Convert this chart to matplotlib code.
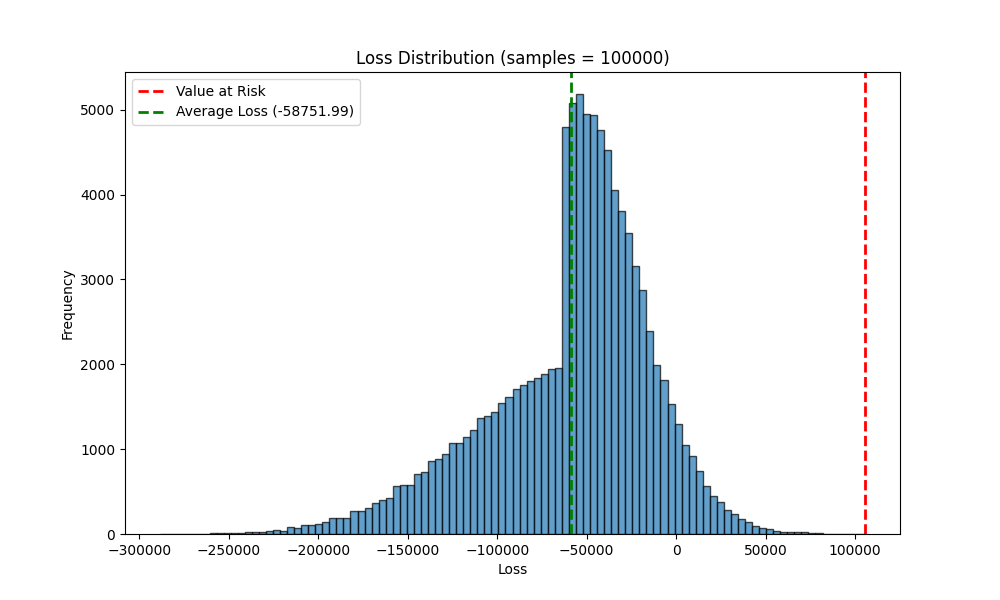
import numpy as np
import matplotlib as mpl
mpl.use('agg')
import matplotlib.pyplot as plt


##--##--  values  --##--##
n_samples = 100000
loss_min = -288400
loss_max = 105500
value_at_risk = 105500
average_loss = -58751.99

counts = [1, 0, 0, 1, 2, 2, 4,
          8, 9, 12, 14, 13,
          22, 25, 26,
          40, 52, 37, 80, 67,
          102, 102, 116, 138, 187, 189, 188, 267, 268, 303, 363, 399, 421,
          566, 578, 578, 708, 727, 857, 881, 940, 1069, 1077, 1140, 1226,
          1364, 1388, 1435, 1541, 1612, 1706, 1753, 1800, 1836, 1887, 1942, 1954,
          4796, 5079, 5185, 4949, 4937, 4760, 4524, 4057, 3801, 3546, 3157, 2873, 2390, 1989,
          1812, 1529, 1293, 1046, 920, 739, 562, 444, 373, 279, 232, 173, 138, 90,
          67, 55, 31, 20, 20, 20, 18, 12, 10,
          5, 3, 2, 1, 0, 1]

edges = np.linspace(loss_min, loss_max, len(counts) + 1)
centers = 0.5 * (edges[:-1] + edges[1:])


##--##--  figure  --##--##
fig, ax = plt.subplots(figsize=(10, 6), dpi=100)

ax.hist(centers, bins=edges, weights=counts, edgecolor='black', alpha=0.7)
ax.axvline(value_at_risk, color='red', linestyle='--', linewidth=2, label='Value at Risk')
ax.axvline(average_loss, color='green', linestyle='--', linewidth=2,
           label=f'Average Loss ({average_loss:.2f})')

ax.set_title(f'Loss Distribution (samples = {n_samples})')
ax.set_xlabel('Loss')
ax.set_ylabel('Frequency')
ax.legend(loc='upper left')

fig.savefig('out.png')
